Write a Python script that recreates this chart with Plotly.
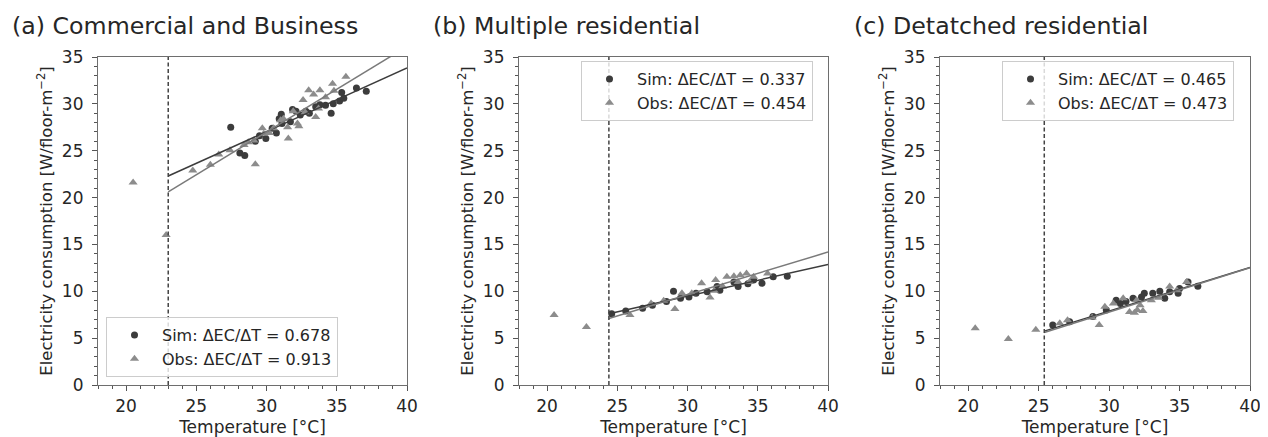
import plotly.graph_objects as go

# ---------------- data ----------------
panel_titles = ["(a) Commercial and Business", "(b) Multiple residential", "(c) Detatched residential"]

a_sim_T = [27.45, 28.1, 28.45, 29.2, 29.95, 30.4, 30.7, 31.05, 31.1, 31.7, 31.85, 32.4, 32.8, 33.05, 33.5, 33.8, 34.2, 34.6, 34.75, 35.2, 35.35, 35.5, 36.4, 37.1, 29.5, 30.9, 32.1]
a_sim_E = [27.5, 24.75, 24.5, 26.0, 26.3, 27.4, 26.9, 28.9, 27.9, 28.1, 29.4, 28.8, 29.2, 29.0, 29.7, 29.9, 29.85, 29.0, 30.0, 30.3, 31.2, 30.6, 31.7, 31.35, 26.6, 28.4, 29.2]
a_obs_T = [20.5, 22.85, 24.75, 26.0, 26.6, 27.4, 28.4, 29.2, 29.1, 29.7, 29.8, 30.5, 31.0, 31.2, 31.55, 31.5, 31.9, 32.2, 32.3, 32.6, 32.75, 33.0, 33.35, 33.5, 33.7, 33.8, 34.2, 34.7, 34.8, 35.65, 28.7, 30.2]
a_obs_E = [21.6, 16.0, 22.9, 23.5, 24.6, 25.05, 25.6, 23.55, 26.1, 27.4, 26.8, 27.4, 28.25, 28.4, 26.3, 27.5, 29.2, 27.9, 27.6, 30.4, 29.1, 31.45, 31.0, 28.6, 29.5, 31.45, 30.7, 32.15, 31.4, 32.9, 25.9, 26.9]

b_sim_T = [24.6, 25.6, 26.8, 27.5, 28.5, 29.0, 29.5, 30.1, 30.6, 31.4, 32.1, 32.3, 33.3, 33.6, 34.3, 34.7, 35.3, 36.1, 37.1]
b_sim_E = [7.6, 7.9, 8.2, 8.5, 8.9, 10.0, 9.25, 9.4, 9.8, 9.95, 10.5, 10.1, 11.0, 10.5, 10.8, 11.2, 10.85, 11.55, 11.6]
b_obs_T = [20.5, 22.8, 25.9, 27.4, 29.1, 29.6, 30.3, 31.0, 31.6, 31.9, 32.5, 32.8, 33.3, 33.6, 33.75, 34.2, 34.4, 34.7, 35.7, 28.3, 32.0]
b_obs_E = [7.46, 6.2, 7.46, 8.7, 8.1, 9.8, 9.8, 10.85, 9.35, 10.05, 10.5, 11.55, 11.6, 11.0, 11.7, 11.9, 11.0, 11.55, 11.9, 9.0, 11.2]

c_sim_T = [26.0, 27.2, 28.85, 29.8, 30.5, 30.8, 31.2, 31.7, 32.3, 32.5, 33.1, 33.6, 33.95, 34.3, 34.9, 35.0, 35.6, 36.3]
c_sim_E = [6.4, 6.75, 7.3, 8.0, 9.05, 8.7, 8.9, 9.25, 9.4, 9.8, 9.8, 10.0, 9.25, 9.95, 9.8, 10.3, 11.0, 10.55]
c_obs_T = [20.5, 22.85, 24.8, 26.5, 27.05, 28.8, 29.3, 29.7, 30.3, 31.0, 31.45, 31.95, 32.2, 32.4, 33.0, 33.5, 34.3, 34.8, 35.5, 31.8, 32.0]
c_obs_E = [6.05, 4.9, 5.9, 6.6, 6.9, 7.2, 6.4, 8.35, 8.7, 9.25, 7.8, 9.05, 8.5, 7.9, 9.05, 9.3, 10.5, 10.1, 11.0, 7.7, 8.0]

thresholds = [23.0, 24.4, 25.4]
sim_slopes = [0.678, 0.337, 0.465]
obs_slopes = [0.913, 0.454, 0.473]
sim_at_thr = [22.3, 7.6, 5.75]
obs_at_thr = [20.6, 7.1, 5.6]
x_max = 40

sim_T = [a_sim_T, b_sim_T, c_sim_T]
sim_E = [a_sim_E, b_sim_E, c_sim_E]
obs_T = [a_obs_T, b_obs_T, c_obs_T]
obs_E = [a_obs_E, b_obs_E, c_obs_E]

# ---------------- style ----------------
# the page body has an 8px margin, so the figure is drawn 8px in from the top-left
OFF = 8
W, H = 1268 - OFF, 437 - OFF


def fx_(p):
    return (p - OFF) / W


def fy_(p):
    return 1 - (p - OFF) / H


FONT = "DejaVu Sans"
TXT = "#262626"
SIM_C = "#3c3c3c"
OBS_C = "#8c8c8c"
px_domains = [(98, 407), (519, 828), (940, 1250)]
y_dom = [fy_(385), fy_(57)]
legend_pos = [
    dict(x=fx_(106), y=fy_(377), xanchor="left", yanchor="bottom"),
    dict(x=fx_(581), y=fy_(61), xanchor="left", yanchor="top"),
    dict(x=fx_(1002), y=fy_(61), xanchor="left", yanchor="top"),
]

fig = go.Figure()
layout = dict(
    width=W, height=H, margin=dict(l=0, r=0, t=0, b=0, autoexpand=False),
    paper_bgcolor="white", plot_bgcolor="white",
    font=dict(family=FONT, color=TXT, size=17),
    annotations=[],
)

for i in range(3):
    sfx = "" if i == 0 else str(i + 1)
    xa, ya = "x" + sfx, "y" + sfx
    leg = "legend" + sfx
    T0 = thresholds[i]
    fig.add_trace(go.Scatter(
        x=sim_T[i], y=sim_E[i], mode="markers", xaxis=xa, yaxis=ya,
        marker=dict(symbol="circle", size=7, color=SIM_C),
        name=f"Sim: ΔEC/ΔT = {sim_slopes[i]:.3f}", legend=leg, legendgroup=f"s{i}"))
    fig.add_trace(go.Scatter(
        x=obs_T[i], y=obs_E[i], mode="markers", xaxis=xa, yaxis=ya,
        marker=dict(symbol="triangle-up", size=8, color=OBS_C),
        name=f"Obs: ΔEC/ΔT = {obs_slopes[i]:.3f}", legend=leg, legendgroup=f"o{i}"))
    # fit lines
    fx = [T0, x_max]
    fig.add_trace(go.Scatter(
        x=fx, y=[sim_at_thr[i], sim_at_thr[i] + sim_slopes[i] * (x_max - T0)],
        mode="lines", xaxis=xa, yaxis=ya, line=dict(color=SIM_C, width=1.5),
        showlegend=False, hoverinfo="skip"))
    fig.add_trace(go.Scatter(
        x=fx, y=[obs_at_thr[i], obs_at_thr[i] + obs_slopes[i] * (x_max - T0)],
        mode="lines", xaxis=xa, yaxis=ya, line=dict(color="#7a7a7a", width=1.5),
        showlegend=False, hoverinfo="skip"))
    # threshold line
    fig.add_trace(go.Scatter(
        x=[T0, T0], y=[0, 35], mode="lines", xaxis=xa, yaxis=ya,
        line=dict(color="#444444", width=1.5, dash="4px,2.5px"),
        showlegend=False, hoverinfo="skip"))

    x0, x1 = px_domains[i]
    axis_common = dict(
        showline=True, linecolor="#6e6e6e", linewidth=1.2, mirror=True,
        ticks="outside", ticklen=5, tickwidth=1, tickcolor="#555555",
        showgrid=False, zeroline=False, automargin=False,
        tickfont=dict(size=17, family=FONT, color=TXT),
    )
    layout["xaxis" + sfx] = dict(
        axis_common, domain=[fx_(x0), fx_(x1)], anchor=ya, range=[18, 40],
        tick0=0, dtick=5,
        minor=dict(dtick=1, tick0=0, ticks="outside", ticklen=3, tickcolor="#555555"),
        title=dict(text="Temperature [°C]", standoff=6, font=dict(size=17)),
    )
    layout["yaxis" + sfx] = dict(
        axis_common, domain=y_dom, anchor=xa, range=[0, 35],
        tick0=0, dtick=5, ticklabelstandoff=5,
        minor=dict(dtick=1, tick0=0, ticks="outside", ticklen=3, tickcolor="#555555"),
        title=dict(text="Electricity consumption [W/floor-m<sup>−2</sup>]", standoff=5,
                   font=dict(size=16.5)),
    )
    layout[leg] = dict(
        legend_pos[i], bgcolor="rgba(255,255,255,0.8)", bordercolor="#cccccc",
        borderwidth=1, font=dict(size=16, family=FONT, color=TXT),
        tracegroupgap=0, itemsizing="trace", itemwidth=45,
    )
    layout["annotations"].append(dict(
        text=panel_titles[i], xref="paper", yref="paper",
        x=fx_([10, 431, 852][i]), y=fy_(26), xanchor="left", yanchor="middle",
        showarrow=False, font=dict(size=23.7, family=FONT, color=TXT)))

fig.update_layout(**layout)
fig.write_html("out.html")
